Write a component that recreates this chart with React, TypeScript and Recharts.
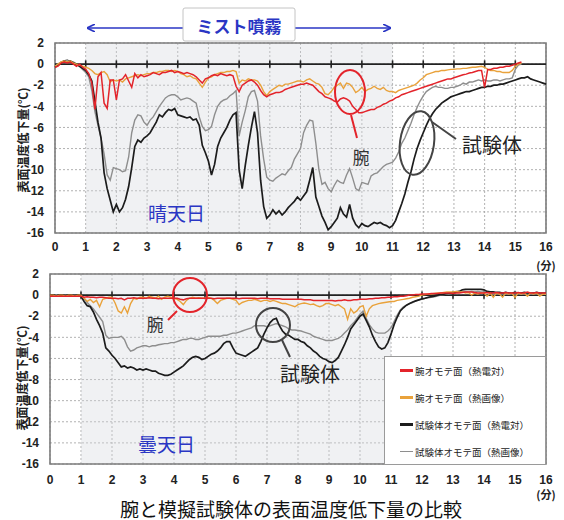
import React from "react";
import {
  CartesianGrid,
  Legend,
  Line,
  LineChart,
  ReferenceArea,
  ReferenceLine,
  XAxis,
  YAxis,
} from "recharts";

const TIME = Array.from({ length: 161 }, (_, i) => i / 10);
const X_TICKS = [0, 1, 2, 3, 4, 5, 6, 7, 8, 9, 10, 11, 12, 13, 14, 15, 16];
const Y_TICKS = [2, 0, -2, -4, -6, -8, -10, -12, -14, -16];
const N = null;

// 晴天日 (sunny day)
const SUNNY_ARM_TC = [
  -0.3, -0.2, 0.1, 0.2, 0.1, 0.2, 0.0, -0.2, 0.0, -0.3,
  -0.5, -0.9, -1.8, -4.3, -1.2, -0.8, -3.7, -4.2, -1.5, -1.5,
  -3.4, -1.5, -1.4, -1.0, -1.6, -2.2, -0.9, -1.3, -1.0, -1.2,
  -1.1, -1.0, -0.8, -0.9, -1.0, -0.8, -0.8, -0.7, -0.6, -0.8,
  -0.7, -0.8, -0.9, -0.8, -0.9, -1.0, -1.2, -1.5, -1.8, -1.4,
  -1.3, -1.1, -1.0, -1.1, -0.9, -1.0, -1.1, -1.0, -1.1, -2.1,
  -2.6, -2.0, -1.8, -1.6, -1.5, -1.7, -2.0, -2.5, -2.9, -3.1,
  -2.9, -2.8, -2.7, -2.7, -2.6, -2.4, -2.3, -2.2, -2.1, -2.0,
  -1.9, -1.9, -1.8, -1.9, -2.0, -2.3, -2.6, -2.8, -3.1, -3.2,
  -3.3, -3.5, -3.6, -3.3, -3.2, -3.3, -3.5, -4.0, -4.3, -4.6,
  -4.6, -4.5, -4.4, -4.3, -4.3, -4.1, -4.0, -3.8, -3.7, -3.5,
  -3.4, -3.2, -3.1, -2.9, -2.8, -2.7, -2.6, -2.5, -2.4, -2.3,
  -2.2, -2.1, -2.0, -1.9, -1.8, -1.7, -1.6, -1.5, -1.4, -1.4,
  -1.3, -1.2, -1.1, -1.0, -0.95, -0.85, -0.8, -0.7, -0.6, -0.6,
  -2.2, -0.5, -0.5, -0.4, -0.4, -0.3, -0.3, -0.2, -0.2, -0.1,
  0.0, 0.1, 0.2, N, N, N, N, N, N, N,
  N,
];

const SUNNY_ARM_IR = [
  -0.2, 0.0, 0.2, 0.3, 0.2, 0.3, 0.1, 0.0, -0.1, -0.2,
  -0.3, -0.4, -0.6, -0.9, -1.0, -0.8, -0.7, -1.0, -1.7, -1.5,
  -1.6, -1.5, -1.7, -1.4, -1.3, -1.2, -1.1, -1.0, -1.1, -1.0,
  -0.9, -0.9, -0.8, -0.8, -0.7, -0.7, -0.6, -0.6, -0.7, -0.6,
  -0.7, -0.9, -1.0, -1.2, -1.1, -1.3, -1.4, -1.8, -2.2, -1.7,
  -1.3, -1.2, -1.0, -0.9, -0.8, -0.8, -0.7, -0.7, -0.6, -0.7,
  -1.8, -1.5, -1.6, -1.4, -1.5, -1.5, -1.6, -2.0, -2.6, -3.0,
  -2.6, -2.4, -2.2, -2.0, -2.1, -1.9, -1.9, -1.8, -1.7, -1.6,
  -1.6, -1.7, -1.5, -1.4, -1.6, -1.8, -1.9, -2.2, -2.8, -2.9,
  -2.6, -2.2, -2.0, -1.8, -2.3, -1.8, -1.9, -2.2, -2.7, -2.5,
  -2.2, -2.6, -2.4, -2.3, -2.1, -2.3, -2.4, -2.2, -2.5, -2.6,
  -2.6, -2.7, -2.5, -2.4, -2.3, -2.2, -2.1, -2.0, -1.8, -1.5,
  -1.3, -1.0, -0.9, -0.8, -0.7, -0.7, -0.6, -0.6, -0.55, -0.5,
  -0.5, -0.45, -0.45, -0.4, -0.4, -0.35, -0.3, -0.3, -0.25, -0.2,
  -0.3, -0.5, -0.6, -0.6, -0.7, -0.7, -0.8, -0.8, -0.8, -0.6,
  -0.2, 0.0, 0.1, N, N, N, N, N, N, N,
  N,
];

const SUNNY_BODY_TC = [
  -0.3, -0.1, 0.1, 0.3, 0.2, 0.3, 0.1, 0.0, -0.2, -0.4,
  -0.6, -1.0, -1.6, -3.5, -5.5, -7.0, -10.3, -11.8, -12.9, -14.0,
  -13.3, -14.0, -13.6, -12.8, -11.6, -9.8, -7.8, -7.2, -7.4, -7.0,
  -6.8, -6.5, -6.0, -5.5, -4.8, -5.0, -4.6, -4.3, -4.4, -4.2,
  -4.8, -4.9, -5.0, -5.1, -5.0, -5.3, -5.2, -5.8, -7.7, -8.4,
  -9.2, -10.5, -9.5, -7.8, -7.0, -6.5, -6.0, -5.3, -4.8, -4.6,
  -10.0, -11.8, -9.6, -7.7, -6.0, -4.5, -6.5, -11.0, -13.5, -14.6,
  -14.3, -13.8, -14.2, -13.9, -14.3, -14.0, -13.6, -13.3, -13.0, -12.6,
  -12.9, -12.5, -12.1, -11.0, -9.8, -12.6, -13.5, -14.4, -15.0, -15.7,
  -15.4, -15.0, -14.6, -13.6, -14.2, -14.5, -13.3, -14.6, -15.2, -15.5,
  -15.1, -15.3, -15.4, -15.2, -15.0, -15.1, -15.0, -15.2, -15.3, -15.5,
  -15.3, -14.8, -14.0, -13.2, -12.3, -11.2, -10.2, -9.0, -8.0, -7.2,
  -6.5, -5.8, -5.2, -4.7, -4.3, -4.0, -3.7, -3.5, -3.3, -3.1,
  -3.0, -2.9, -2.8, -2.7, -2.6, -2.6, -2.5, -2.4, -2.3, -2.2,
  -2.2, -2.1, -2.1, -2.0, -2.0, -1.9, -1.9, -1.8, -1.7, -1.6,
  -1.5, -1.4, -1.3, -1.3, -1.2, -1.4, -1.5, -1.6, -1.7, -1.8,
  -1.9,
];

const SUNNY_BODY_IR = [
  -0.2, 0.0, 0.2, 0.3, 0.4, 0.2, 0.2, 0.0, -0.2, -0.5,
  -0.8, -1.2, -2.5, -4.5, -5.8, -7.0, -8.5, -10.5, -11.0, -9.8,
  -9.9, -10.0, -10.2, -10.1, -8.8, -6.5, -5.3, -4.8, -4.9, -5.5,
  -5.8, -5.3, -5.0, -4.5, -4.0, -3.6, -3.2, -3.0, -2.9, -2.9,
  -3.1, -3.4, -3.3, -3.2, -3.3, -3.5, -3.7, -5.0, -5.9, -6.3,
  -6.2, -5.9, -4.8, -4.0, -3.6, -3.4, -3.3, -3.0, -2.8, -2.5,
  -6.8, -5.5, -4.4, -3.1, -2.6, -2.5, -3.5, -6.8, -9.0, -10.7,
  -11.0, -11.1, -10.8, -10.6, -10.4, -10.5, -10.1, -9.8, -9.0, -8.5,
  -8.0, -6.5, -5.8, -5.3, -5.4, -7.5, -10.0, -11.4, -11.2, -11.8,
  -12.1, -11.5, -11.0, -11.2, -11.3, -10.5, -9.9, -10.8, -11.8, -12.0,
  -11.2, -11.3, -11.4, -10.6, -10.4, -10.3, -10.0, -9.7, -9.5, -9.4,
  -9.3, -8.9, -8.3, -7.5, -7.0, -6.3, -5.6, -4.8, -4.1, -3.5,
  -3.0, -2.6, -2.4, -2.2, -2.1, -2.2, -2.2, -2.3, -2.3, -2.2,
  -2.2, -2.1, -2.0, -1.8, -1.9, -1.7, -1.7, -1.6, -1.5, -1.6,
  -1.5, -1.6, -1.6, -1.5, -1.5, -1.6, -1.5, -1.4, -1.4, -1.3,
  -0.5, -0.1, 0.0, N, N, N, N, N, N, N,
  N,
];

// 曇天日 (cloudy day)
const CLOUDY_ARM_TC = [
  -0.1, -0.1, -0.1, -0.1, -0.1, -0.1, -0.1, -0.1, -0.1, -0.1,
  -0.1, -0.2, -0.15, -0.2, -0.2, -0.25, -0.2, -0.2, -0.25, -0.3,
  -0.3, -0.3, -0.35, -0.3, -0.45, -0.3, -0.3, -0.25, -0.3, -0.3,
  -0.3, -0.3, -0.25, -0.3, -0.3, -0.35, -0.3, -0.3, -0.3, -0.3,
  -0.3, -0.3, -0.4, -0.45, -0.35, -0.3, -0.3, -0.3, -0.3, -0.3,
  -0.3, -0.3, -0.3, -0.35, -0.3, -0.3, -0.3, -0.3, -0.3, -0.3,
  -0.3, -0.35, -0.3, -0.3, -0.3, -0.3, -0.3, -0.35, -0.3, -0.3,
  -0.3, -0.35, -0.35, -0.35, -0.35, -0.4, -0.4, -0.4, -0.4, -0.4,
  -0.4, -0.4, -0.45, -0.45, -0.45, -0.5, -0.5, -0.5, -0.5, -0.5,
  -0.5, -0.5, -0.55, -0.5, -0.5, -0.45, -0.5, -0.5, -0.45, -0.45,
  -0.4, -0.4, -0.4, -0.35, -0.35, -0.3, -0.3, -0.25, -0.25, -0.2,
  -0.2, -0.15, -0.15, -0.1, -0.1, -0.05, 0.0, 0.0, 0.05, 0.05,
  0.1, 0.1, 0.1, 0.15, 0.15, 0.15, 0.2, 0.2, 0.2, 0.2,
  0.15, 0.2, 0.2, 0.25, 0.3, 0.3, 0.3, 0.25, 0.2, 0.2,
  0.2, 0.25, 0.2, 0.2, 0.25, 0.2, 0.2, 0.25, 0.2, 0.2,
  0.2, 0.25, 0.2, 0.2, 0.3, 0.2, 0.2, 0.25, 0.2, 0.2,
  0.2,
];

const CLOUDY_ARM_IR = [
  0.0, 0.0, -0.1, 0.0, 0.0, -0.1, 0.0, 0.0, -0.1, 0.0,
  0.0, -0.3, -0.6, -0.4, -0.7, -0.5, -1.1, -0.4, -0.3, -0.2,
  -0.2, -0.75, -1.5, -1.7, -1.1, -1.7, -0.8, -0.3, -0.4, -0.2,
  -0.2, -0.3, -0.1, -0.2, -0.3, -0.1, -0.4, -0.2, -0.1, -0.2,
  -0.3, -0.4, -0.6, -0.9, -0.5, -0.3, -0.2, -0.3, -0.25, -0.3,
  -0.3, -0.2, -0.3, -0.5, -0.8, -0.5, -0.4, -0.3, -0.3, -0.4,
  -0.5, -0.9, -0.7, -0.6, -0.5, -0.5, -0.4, -0.5, -0.6, -0.5,
  -0.5, -0.6, -0.5, -0.6, -0.7, -0.8, -0.8, -0.9, -1.0, -1.1,
  -0.9, -0.8, -0.75, -0.8, -0.9, -0.85, -1.0, -1.1, -1.0, -0.8,
  -0.8, -0.9, -1.0, -0.9, -1.1, -1.3, -2.3, -1.3, -1.7, -1.5,
  -1.1, -1.0, -2.0, -1.3, -1.0, -0.9, -0.8, -0.75, -0.7, -0.65,
  -0.6, -0.6, -0.5, -0.45, -0.4, -0.35, -0.3, -0.2, -0.15, -0.1,
  0.0, 0.05, 0.1, 0.1, 0.15, 0.2, 0.2, 0.25, 0.3, 0.3,
  0.3, 0.35, 0.3, 0.3, 0.2, 0.25, 0.0, 0.2, 0.1, 0.2,
  0.2, -0.1, 0.2, -0.2, 0.2, 0.1, -0.2, 0.2, 0.1, 0.2,
  -0.2, 0.2, 0.1, 0.2, -0.1, 0.2, 0.1, 0.2, -0.1, 0.1,
  0.1,
];

const CLOUDY_BODY_TC = [
  0.0, 0.0, -0.1, 0.0, 0.0, -0.1, 0.0, 0.0, -0.1, 0.0,
  -0.1, -0.6, -1.0, -1.1, -1.6, -2.3, -2.9, -3.6, -5.0, -5.3,
  -5.7, -6.0, -6.4, -6.8, -6.7, -6.9, -6.8, -6.9, -7.1, -7.0,
  -7.1, -7.0, -7.1, -7.2, -7.2, -7.4, -7.5, -7.6, -7.6, -7.5,
  -7.3, -7.1, -6.9, -6.7, -6.4, -6.1, -5.9, -5.8, -5.9, -6.1,
  -6.0, -5.8, -5.6, -5.5, -5.3, -5.0, -4.6, -4.4, -4.4, -5.0,
  -5.5, -5.6, -5.7, -5.8, -5.6, -5.4, -5.2, -5.0, -4.4, -3.7,
  -3.1, -2.6, -2.3, -2.2, -2.9, -3.4, -3.7, -3.8, -4.0, -4.2,
  -4.2, -4.4, -4.5, -4.8, -5.0, -5.3, -5.5, -5.8, -6.0, -6.1,
  -6.3, -6.4, -6.2, -5.9, -5.3, -4.7, -4.0, -3.2, -2.8, -2.4,
  -2.0, -1.8, -2.4, -3.0, -3.8, -4.4, -4.9, -5.1, -5.0, -4.5,
  -3.7, -2.8, -2.1, -1.5, -1.2, -0.95, -0.8, -0.65, -0.55, -0.45,
  -0.35, -0.3, -0.2, -0.15, -0.1, 0.0, 0.05, 0.1, 0.15, 0.2,
  0.25, 0.3, 0.35, 0.5, 0.55, 0.55, 0.55, 0.55, 0.55, 0.55,
  0.5, 0.35, 0.3, 0.3, 0.25, 0.25, 0.2, 0.25, 0.2, 0.2,
  0.25, 0.2, 0.2, 0.25, 0.2, 0.2, 0.2, 0.25, 0.2, 0.2,
  0.2,
];

const CLOUDY_BODY_IR = [
  0.0, -0.1, 0.0, -0.1, 0.0, -0.1, -0.1, 0.0, -0.1, -0.1,
  -0.1, -0.3, -0.7, -1.0, -1.3, -1.7, -2.1, -2.5, -3.8, -4.1,
  -4.0, -4.0, -4.0, -3.9, -4.2, -4.9, -5.3, -5.2, -5.0, -4.9,
  -4.8, -4.8, -4.9, -4.8, -4.8, -4.7, -4.65, -4.6, -4.6, -4.5,
  -4.5, -4.4, -4.3, -4.2, -4.2, -4.1, -4.1, -4.2, -4.2, -4.1,
  -4.0, -3.9, -3.9, -3.9, -3.9, -3.9, -3.8, -3.8, -3.7, -3.6,
  -3.6, -3.5, -3.4, -3.3, -3.2, -3.1, -2.9, -2.9, -2.9, -2.9,
  -3.0, -2.9, -2.8, -2.7, -2.8, -2.9, -3.0, -3.2, -3.3, -3.3,
  -3.35, -3.4, -3.5, -3.6, -3.7, -3.9, -4.0, -4.1, -4.2, -4.3,
  -4.3, -4.3, -4.2, -4.1, -3.9, -3.6, -3.3, -2.9, -2.6, -2.2,
  -1.8, -1.5, -2.2, -2.8, -3.2, -3.5, -3.6, -3.6, -3.6, -3.4,
  -3.1, -2.5, -1.9, -1.4, -1.1, -0.95, -0.8, -0.7, -0.55, -0.45,
  -0.4, -0.3, -0.25, -0.2, -0.15, -0.1, 0.0, 0.05, 0.1, 0.15,
  0.2, 0.25, 0.3, 0.3, 0.35, 0.3, 0.35, 0.3, 0.35, 0.3,
  0.3, 0.25, 0.2, 0.1, 0.15, 0.1, 0.15, 0.1, 0.1, 0.15,
  0.1, 0.15, 0.1, 0.1, 0.15, 0.1, 0.1, 0.15, 0.1, 0.1,
  0.1,
];

const RED = "#e3242b";
const ORANGE = "#e9a23b";
const BLACK = "#1c1c1c";
const GRAY = "#8e8e8e";
const BLUE = "#2a36c4";

const SERIES = [
  { key: "gray", name: "試験体オモテ面（熱画像）", color: GRAY, width: 1.4 },
  { key: "black", name: "試験体オモテ面（熱電対）", color: BLACK, width: 1.7 },
  { key: "orange", name: "腕オモテ面（熱画像）", color: ORANGE, width: 1.4 },
  { key: "red", name: "腕オモテ面（熱電対）", color: RED, width: 1.5 },
];
const LEGEND_ORDER = ["red", "orange", "black", "gray"];

function buildRows(red, orange, black, gray) {
  return TIME.map((t, i) => ({ t, red: red[i], orange: orange[i], black: black[i], gray: gray[i] }));
}

const sunnyRows = buildRows(SUNNY_ARM_TC, SUNNY_ARM_IR, SUNNY_BODY_TC, SUNNY_BODY_IR);
const cloudyRows = buildRows(CLOUDY_ARM_TC, CLOUDY_ARM_IR, CLOUDY_BODY_TC, CLOUDY_BODY_IR);

const tickStyle = { fontSize: 12, fontWeight: 700, fill: "#222", fontFamily: "'Liberation Sans', Arial, sans-serif" };

function LegendBox() {
  return (
    <div
      style={{
        width: 162,
        height: 109,
        boxSizing: "border-box",
        background: "#fff",
        border: "1px solid #9a9a9a",
      }}
    >
      {LEGEND_ORDER.map((k) => {
        const s = SERIES.find((x) => x.key === k);
        return (
          <div key={k} style={{ display: "flex", alignItems: "center", height: 27 }}>
            <span
              style={{
                display: "inline-block",
                width: 13,
                height: k === "gray" ? 1.5 : 2.5,
                background: s.color,
                marginLeft: 15,
                marginRight: 2,
              }}
            />
            <span style={{ fontSize: 9.5, color: "#222", fontFamily: "'Noto Sans CJK JP', sans-serif", whiteSpace: "nowrap" }}>{s.name}</span>
          </div>
        );
      })}
    </div>
  );
}

function Panel({ rows, top, height, margin, tickMargin, legend }) {
  return (
    <div style={{ position: "absolute", left: 0, top }}>
      <LineChart width={564} height={height} data={rows} margin={margin}>
        <ReferenceArea x1={1} x2={11} y1={-16} y2={2} fill="#d3d8de" fillOpacity={0.35} stroke="none" />
        <CartesianGrid strokeDasharray="2 2" stroke="#9d9d9d" strokeWidth={0.8} />
        <XAxis
          dataKey="t"
          type="number"
          domain={[0, 16]}
          ticks={X_TICKS}
          interval={0}
          axisLine={false}
          tickLine={false}
          tickSize={0}
          tickMargin={tickMargin}
          height={30}
          tick={tickStyle}
        />
        <YAxis
          type="number"
          domain={[-16, 2]}
          ticks={Y_TICKS}
          interval={0}
          axisLine={false}
          tickLine={false}
          tickSize={0}
          tickMargin={11}
          width={30}
          tick={tickStyle}
        />
        <ReferenceLine y={0} stroke="#222" strokeWidth={1.6} />
        {X_TICKS.slice(1, -1).map((x) => (
          <ReferenceLine
            key={x}
            segment={[
              { x, y: 0.35 },
              { x, y: -0.35 },
            ]}
            stroke="#222"
            strokeWidth={1.6}
          />
        ))}
        {SERIES.map((s) => (
          <Line
            key={s.key}
            type="linear"
            dataKey={s.key}
            name={s.name}
            stroke={s.color}
            strokeWidth={s.width}
            dot={false}
            isAnimationActive={false}
            connectNulls={false}
          />
        ))}
        <ReferenceArea x1={0} x2={16} y1={-16} y2={2} fill="none" stroke="#7c7c7c" strokeWidth={1.6} />
        {legend && (
          <Legend
            layout="vertical"
            align="center"
            verticalAlign="middle"
            width={162}
            height={109}
            wrapperStyle={{ left: 384, top: 96, width: 162, height: 109 }}
            content={() => <LegendBox />}
          />
        )}
      </LineChart>
    </div>
  );
}

export default function App() {
  const jp = "'Noto Sans CJK JP', sans-serif";
  return (
    <div style={{ position: "absolute", left: 0, top: 0, width: 564, height: 520, background: "#fff" }}>
      <Panel rows={sunnyRows} top={0} height={270} margin={{ top: 43, right: 18, bottom: 7, left: 25 }} tickMargin={9} legend={false} />
      <Panel rows={cloudyRows} top={260} height={260} margin={{ top: 14, right: 18, bottom: 26, left: 20 }} tickMargin={11} legend />
      <svg width={564} height={520} style={{ position: "absolute", left: 0, top: 0, pointerEvents: "none" }}>
        <defs>
          <marker id="ah" markerWidth="8" markerHeight="8" refX="7" refY="4" orient="auto" markerUnits="userSpaceOnUse">
            <path d="M0,0 L8,4 L0,8" fill="none" stroke={BLUE} strokeWidth={1.6} />
          </marker>
        </defs>
        {/* spray period header */}
        <line x1={183} y1={28} x2={88} y2={28} stroke={BLUE} strokeWidth={1.6} markerEnd="url(#ah)" />
        <line x1={295} y1={28} x2={390} y2={28} stroke={BLUE} strokeWidth={1.6} markerEnd="url(#ah)" />
        <rect x={183} y={8} width={112} height={33} fill="#fff" stroke="#c4c4c4" strokeWidth={1} rx={2} />
        <text x={239} y={25} textAnchor="middle" dominantBaseline="central" fontSize={17} fontWeight={700} fill={BLUE} fontFamily={jp}>
          ミスト噴霧
        </text>

        {/* y axis titles */}
        <text x={22} y={140} transform="rotate(-90 22 140)" textAnchor="middle" dominantBaseline="central" fontSize={12} fontWeight={700} fill="#222" fontFamily={jp}>
          表面温度低下量(℃)
        </text>
        <text x={21} y={378} transform="rotate(-90 21 378)" textAnchor="middle" dominantBaseline="central" fontSize={12} fontWeight={700} fill="#222" fontFamily={jp}>
          表面温度低下量(℃)
        </text>
        <text x={546} y={265} textAnchor="middle" dominantBaseline="central" fontSize={11} fontWeight={700} fill="#222" fontFamily={jp}>
          (分)
        </text>
        <text x={546} y={494} textAnchor="middle" dominantBaseline="central" fontSize={11} fontWeight={700} fill="#222" fontFamily={jp}>
          (分)
        </text>

        {/* sunny annotations */}
        <ellipse cx={350} cy={92} rx={15} ry={22} fill="none" stroke={RED} strokeWidth={2} />
        <line x1={351} y1={115} x2={357} y2={138} stroke={RED} strokeWidth={2} />
        <text x={361} y={156} textAnchor="middle" dominantBaseline="central" fontSize={17} fill="#333" fontFamily={jp}>腕</text>
        <ellipse cx={417} cy={143} rx={17} ry={32} fill="none" stroke="#444" strokeWidth={2} transform="rotate(8 417 143)" />
        <line x1={432} y1={122} x2={456} y2={139} stroke="#444" strokeWidth={2} />
        <text x={462} y={144} dominantBaseline="central" fontSize={20} fill="#222" fontFamily={jp}>試験体</text>
        <text x={148} y={212} dominantBaseline="central" fontSize={19} fill={BLUE} fontFamily={jp}>晴天日</text>

        {/* cloudy annotations */}
        <circle cx={190} cy={295} r={17} fill="none" stroke={RED} strokeWidth={2} />
        <line x1={177} y1={311} x2={168} y2={320} stroke={RED} strokeWidth={2} />
        <text x={155} y={323} textAnchor="middle" dominantBaseline="central" fontSize={17} fill="#333" fontFamily={jp}>腕</text>
        <circle cx={273} cy={325} r={17} fill="none" stroke="#444" strokeWidth={2} />
        <line x1={282} y1={340} x2={290} y2={357} stroke="#444" strokeWidth={2} />
        <text x={280} y={373} dominantBaseline="central" fontSize={20} fill="#222" fontFamily={jp}>試験体</text>
        <text x={138} y={443} dominantBaseline="central" fontSize={19} fill={BLUE} fontFamily={jp}>曇天日</text>

        <text x={291} y={508} textAnchor="middle" dominantBaseline="central" fontSize={19} fill="#111" fontFamily={jp}>
          腕と模擬試験体の表面温度低下量の比較
        </text>
      </svg>
    </div>
  );
}
